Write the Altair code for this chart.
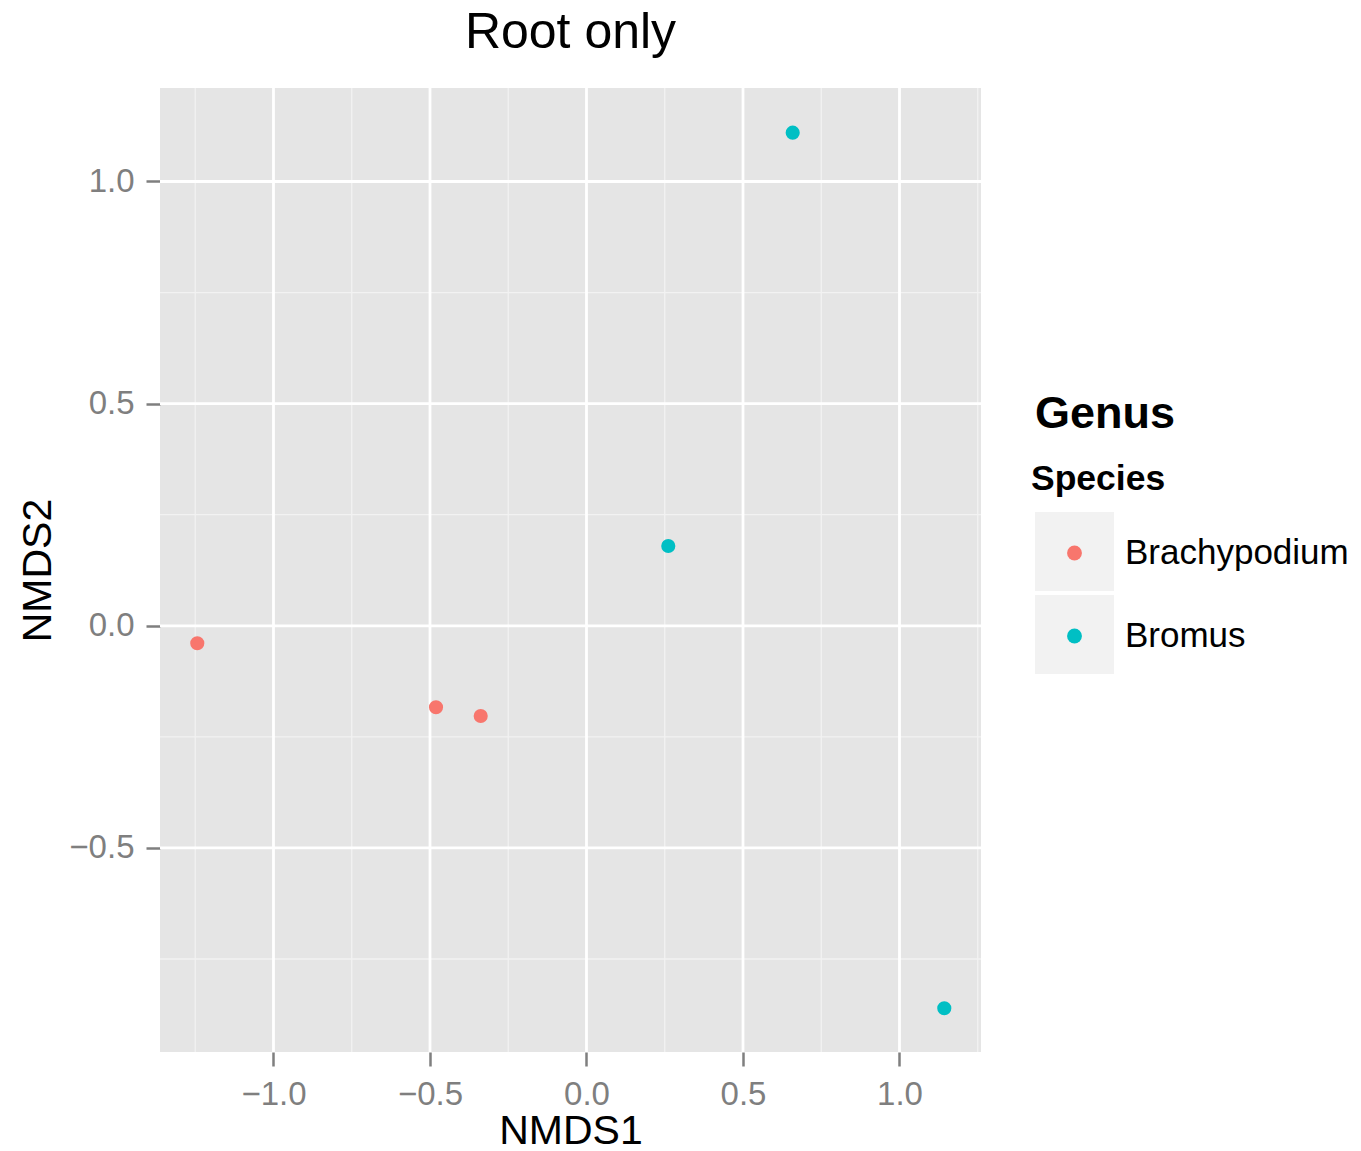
import altair as alt
import pandas as pd

# ---- data ----
species = ["Brachypodium", "Brachypodium", "Brachypodium", "Bromus", "Bromus", "Bromus"]
nmds1 = [-1.2435, -0.4808, -0.3380, 0.2613, 0.6588, 1.1431]
nmds2 = [-0.0394, -0.1834, -0.2030, 0.1796, 1.1098, -0.8609]

categories = ["Brachypodium", "Bromus"]
colors = ["#F8766D", "#00BFC4"]

x_major = [-1.0, -0.5, 0.0, 0.5, 1.0]
y_major = [-0.5, 0.0, 0.5, 1.0]
x_minor = [-1.25, -0.75, -0.25, 0.25, 0.75, 1.25]
y_minor = [-0.75, -0.25, 0.25, 0.75]

FONT = "Liberation Sans"
W, H = 821, 964

points_df = pd.DataFrame({"x": nmds1, "y": nmds2, "species": species})

xs = alt.Scale(domain=[-1.3626, 1.2604], nice=False, zero=False)
ys = alt.Scale(domain=[-0.9593, 1.2104], nice=False, zero=False)

common_axis = dict(
    grid=False, domain=False, tickColor="#7F7F7F", tickSize=14, tickWidth=2.5,
    labelColor="#7F7F7F", labelFontSize=33, labelFont=FONT, format=".1f",
    labelFlush=False, labelOverlap=False,
    titleFontSize=41, titleFont=FONT, titleFontWeight="normal", titleColor="black",
    titleBaseline="alphabetic",
)
xaxis = alt.Axis(values=x_major, labelPadding=12, titleY=91, **common_axis)
yaxis = alt.Axis(values=y_major, labelPadding=12, titleX=-110, titleY=H / 2,
                 titleAngle=270, **common_axis)

X = alt.X("x:Q", scale=xs, axis=xaxis, title="NMDS1")
Y = alt.Y("y:Q", scale=ys, axis=yaxis, title="NMDS2")

vminor = alt.Chart(pd.DataFrame({"x": x_minor})).mark_rule(
    color="#F2F2F2", strokeWidth=1.3).encode(x=X)
hminor = alt.Chart(pd.DataFrame({"y": y_minor})).mark_rule(
    color="#F2F2F2", strokeWidth=1.3).encode(y=Y)
vmajor = alt.Chart(pd.DataFrame({"x": x_major})).mark_rule(
    color="white", strokeWidth=2.8).encode(x=X)
hmajor = alt.Chart(pd.DataFrame({"y": y_major})).mark_rule(
    color="white", strokeWidth=2.8).encode(y=Y)

points = alt.Chart(points_df).mark_circle(size=200, opacity=1).encode(
    x=X, y=Y,
    color=alt.Color(
        "species:N",
        scale=alt.Scale(domain=categories, range=colors),
        legend=alt.Legend(
            title="Species", orient="none", legendX=871, legendY=374, padding=0,
            titleFontSize=35.5, titleFontWeight="bold", titleColor="black", titleFont=FONT,
            titlePadding=38, labelFontSize=35, labelColor="black", labelFont=FONT,
            labelLimit=500,
            symbolType="circle", symbolSize=220, symbolOffset=26, labelOffset=33,
            rowPadding=47, symbolStrokeWidth=0, symbolOpacity=1,
        ),
    ),
)

one = pd.DataFrame({"k": [0]})
key1 = alt.Chart(one).mark_rect(color="#F2F2F2").encode(
    x=alt.value(875), x2=alt.value(954), y=alt.value(424), y2=alt.value(503))
key2 = alt.Chart(one).mark_rect(color="#F2F2F2").encode(
    x=alt.value(875), x2=alt.value(954), y=alt.value(507), y2=alt.value(586))
genus = alt.Chart(one).mark_text(
    text="Genus", fontSize=45, fontWeight="bold", font=FONT, color="black",
    align="left", baseline="alphabetic").encode(x=alt.value(875), y=alt.value(340))

chart = alt.layer(vminor, hminor, vmajor, hmajor, key1, key2, points, genus).properties(
    width=W, height=H,
    title=alt.TitleParams("Root only", fontSize=50, fontWeight="normal", font=FONT,
                          color="black", anchor="middle", frame="group",
                          baseline="alphabetic", offset=41, dy=52),
    autosize=alt.AutoSizeParams(type="none"),
    padding={"left": 160, "top": 88, "right": 380, "bottom": 99},
    background="white",
).configure_view(fill="#E5E5E5", strokeWidth=0)

chart.save("out.html", embed_options={"renderer": "svg", "actions": False})
